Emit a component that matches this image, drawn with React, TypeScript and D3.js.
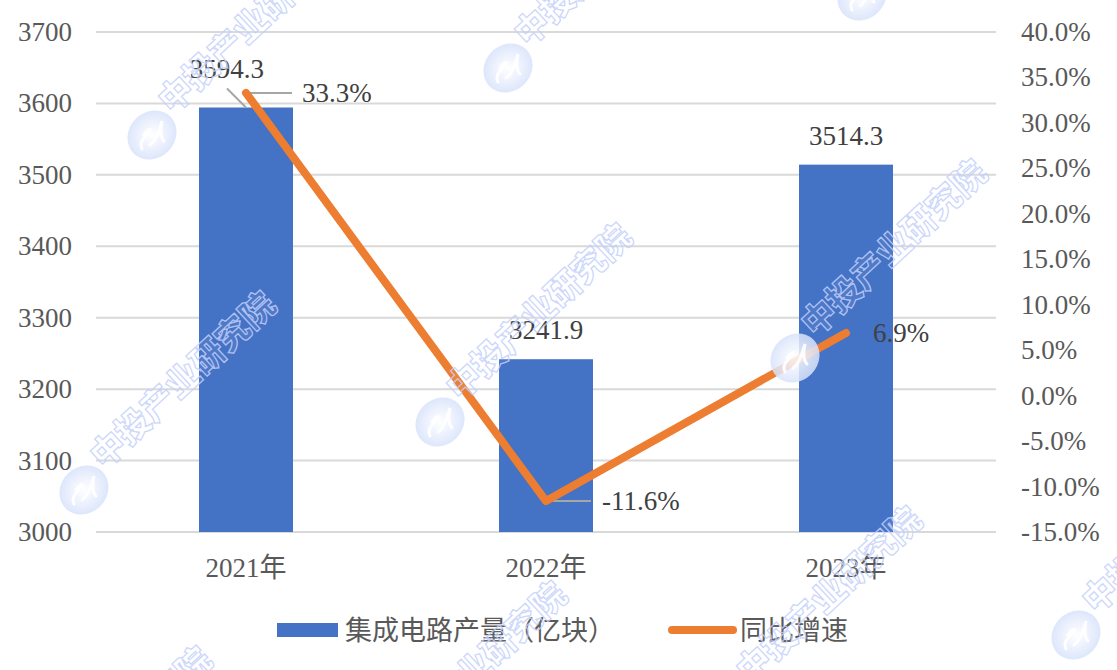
import React from "react";
import * as d3 from "d3";

const years = ["2021年", "2022年", "2023年"];
const output = [3594.3, 3241.9, 3514.3];
const growth = [33.3, -11.6, 6.9];
const leftTicks = [3000, 3100, 3200, 3300, 3400, 3500, 3600, 3700];
const rightTicks = [-15, -10, -5, 0, 5, 10, 15, 20, 25, 30, 35, 40];
const seriesNames = ["集成电路产量（亿块）", "同比增速"];
const watermarkText = "中投产业研究院";
const watermarkAnchors: [number, number][] = [
  [-204, 202], [152, 135], [508, 68], [862, -4],
  [84, 490], [440, 422], [795, 358],
  [20, 845], [375, 780], [730, 705], [1076, 635],
];

const W = 1117, H = 670;
const serif = "'Liberation Serif', 'Times New Roman', serif";
const cjk = "'Liberation Serif', 'Noto Sans CJK SC', serif";
const FS = 27;

export default function App() {
  const x = d3.scaleBand<string>().domain(years).range([96, 996]).paddingInner(0.6867).paddingOuter(0.3433);
  const y = d3.scaleLinear().domain([3000, 3700]).range([532, 32]);
  const yR = d3.scaleLinear().domain([-15, 40]).range([532, 32]);
  const cx = (i: number) => (x(years[i]) as number) + x.bandwidth() / 2;
  const line = d3.line<number>().x((_, i) => cx(i)).y((d) => yR(d));

  return (
    <svg width={W} height={H} viewBox={`0 0 ${W} ${H}`} style={{ position: "absolute", left: 0, top: 0, display: "block", background: "#fff" }}>
      <defs>
        <radialGradient id="logoFill" cx="50%" cy="50%" r="55%">
          <stop offset="0%" stopColor="#ffffff" />
          <stop offset="100%" stopColor="#d3dffa" />
        </radialGradient>
      </defs>
      {leftTicks.map((t) => (
        <g key={t}>
          <line x1={96} x2={996} y1={y(t)} y2={y(t)} stroke="#d9d9d9" strokeWidth={2} />
          <text x={72} y={y(t) + 9} textAnchor="end" fontFamily={serif} fontSize={FS} fill="#595959">{t}</text>
        </g>
      ))}
      {rightTicks.map((t) => (
        <text key={t} x={1021} y={yR(t) + 9} fontFamily={serif} fontSize={FS} fill="#595959">{`${t.toFixed(1)}%`}</text>
      ))}
      {years.map((c, i) => (
        <g key={c}>
          <rect x={x(c)} y={y(output[i])} width={x.bandwidth()} height={y(3000) - y(output[i])} fill="#4472c4" />
          <text x={cx(i)} y={577} textAnchor="middle" fontFamily={cjk} fontSize={FS} fill="#595959">{c}</text>
        </g>
      ))}
      <path d={`M${cx(0) - 19},${y(output[0]) - 19}L${cx(0)},${y(output[0])}`} stroke="#a6a6a6" strokeWidth={2} fill="none" />
      <path d={`M${cx(0)},${yR(growth[0])}H${cx(0) + 46}`} stroke="#a6a6a6" strokeWidth={2} fill="none" />
      <path d={`M${cx(1)},${yR(growth[1])}H${cx(1) + 45}`} stroke="#a6a6a6" strokeWidth={2} fill="none" />
      <path d={line(growth) as string} fill="none" stroke="#ed7d31" strokeWidth={8} strokeLinecap="round" strokeLinejoin="round" />

      <text x={cx(0) - 19} y={y(output[0]) - 30} textAnchor="middle" fontFamily={serif} fontSize={FS} fill="#404040">{output[0].toFixed(1)}</text>
      <text x={cx(1)} y={y(output[1]) - 20} textAnchor="middle" fontFamily={serif} fontSize={FS} fill="#404040">{output[1].toFixed(1)}</text>
      <text x={cx(2)} y={y(output[2]) - 20} textAnchor="middle" fontFamily={serif} fontSize={FS} fill="#404040">{output[2].toFixed(1)}</text>
      <text x={cx(0) + 56} y={yR(growth[0]) + 9} fontFamily={serif} fontSize={FS} fill="#404040">{`${growth[0].toFixed(1)}%`}</text>
      <text x={cx(1) + 56} y={yR(growth[1]) + 9} fontFamily={serif} fontSize={FS} fill="#404040">{`${growth[1].toFixed(1)}%`}</text>
      <text x={cx(2) + 27} y={yR(growth[2]) + 9} fontFamily={serif} fontSize={FS} fill="#404040">{`${growth[2].toFixed(1)}%`}</text>

      <rect x={277} y={623} width={61} height={14} fill="#4472c4" />
      <text x={345} y={640} fontFamily={cjk} fontSize={FS} fill="#595959">{seriesNames[0]}</text>
      <line x1={672} x2={733} y1={630} y2={630} stroke="#ed7d31" strokeWidth={8} strokeLinecap="round" />
      <text x={740} y={640} fontFamily={cjk} fontSize={FS} fill="#595959">{seriesNames[1]}</text>

      {watermarkAnchors.map(([ax, ay]) => (
        <g key={`${ax},${ay}`} transform={`translate(${ax},${ay})`}>
          <ellipse rx={26} ry={23} transform="rotate(-45)" fill="url(#logoFill)" opacity={0.85} />
          <path d="M-10,14C-14,6 -6,2 -2,-4C0,-8 -6,-4 -8,0M-2,10C4,6 6,-2 10,-14C8,-4 8,2 12,6" fill="none" stroke="#fff" strokeWidth={3} strokeLinecap="round" opacity={0.9} />
          <text transform="translate(20,-20) rotate(-43)" fontFamily="'Noto Sans CJK SC', sans-serif" fontSize={34} fontWeight={900} fill="#ffffff" fillOpacity={0.08} stroke="#c3d0fb" strokeWidth={1.3} strokeOpacity={0.85}>{watermarkText}</text>
        </g>
      ))}
    </svg>
  );
}
